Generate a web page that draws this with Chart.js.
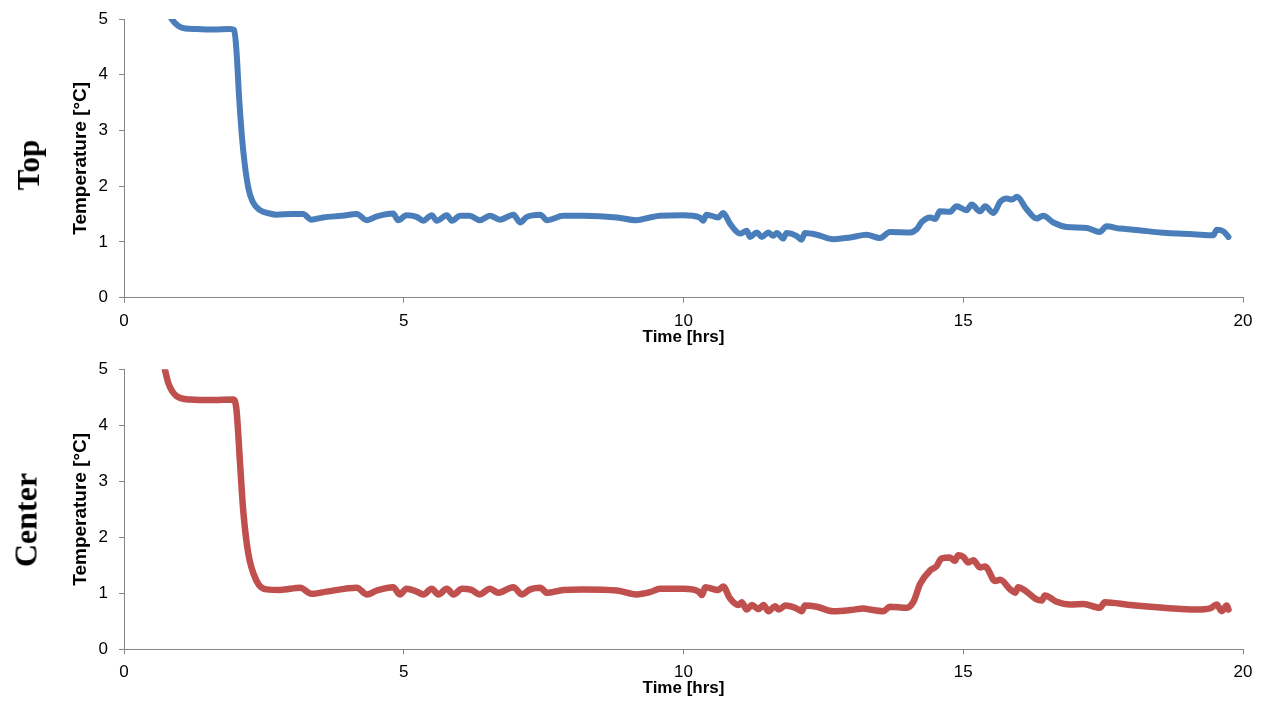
<!DOCTYPE html>
<html>
<head>
<meta charset="utf-8">
<script src="https://cdn.jsdelivr.net/npm/chart.js@4.4.0/dist/chart.umd.min.js"></script>
<style>
  html, body { margin: 0; padding: 0; background: #fff; }
  #wrap { position: relative; width: 1265px; height: 703px; overflow: hidden; }
  canvas { position: absolute; left: 0; }
  .side {
    position: absolute;
    font-family: "Times New Roman", "Liberation Serif", serif;
    font-weight: bold;
    color: #000;
    white-space: nowrap;
    transform: translate(-50%, -50%) rotate(-90deg);
  }
</style>
</head>
<body>
<div id="wrap">
  <canvas id="topChart" width="1265" height="351" style="top:0"></canvas>
  <canvas id="centerChart" width="1265" height="352" style="top:351px"></canvas>
  <div class="side" style="left:29px; top:165px; font-size:31px">Top</div>
  <div class="side" style="left:26px; top:520px; font-size:32px">Center</div>
</div>
<script>
// time axis ticks and range
const timeTicks = [0, 5, 10, 15, 20];
const tempTicks = [0, 1, 2, 3, 4, 5];

// Top sensor
const topTime = [0.85, 0.92, 1.00, 1.10, 1.30, 1.60, 1.90, 1.97, 2.01, 2.06, 2.13, 2.22, 2.30, 2.43, 2.60, 2.73,
  3.00, 3.20, 3.35, 3.56, 3.90, 4.16, 4.34, 4.52, 4.81, 4.90, 5.05, 5.23, 5.35, 5.50, 5.59, 5.77, 5.86,
  6.01, 6.18, 6.36, 6.54, 6.72, 6.96, 7.08, 7.20, 7.44, 7.56, 7.85, 8.21, 8.81, 9.16, 9.40, 9.58, 9.99,
  10.29, 10.35, 10.41, 10.62, 10.71, 10.83, 11.01, 11.13, 11.19, 11.31, 11.40, 11.52, 11.60, 11.67, 11.78,
  11.84, 12.02, 12.11, 12.17, 12.38, 12.68, 12.98, 13.27, 13.51, 13.69, 14.05, 14.17, 14.26, 14.41, 14.50,
  14.58, 14.76, 14.88, 15.06, 15.15, 15.30, 15.39, 15.54, 15.66, 15.78, 15.87, 15.96, 16.13, 16.31, 16.43,
  16.61, 16.85, 17.21, 17.44, 17.56, 17.80, 18.04, 18.64, 19.11, 19.47, 19.53, 19.65, 19.74];
const topTemp = [5.00, 4.92, 4.86, 4.83, 4.82, 4.81, 4.82, 4.80, 4.43, 3.55, 2.65, 1.98, 1.72, 1.57, 1.51, 1.49,
  1.50, 1.50, 1.40, 1.44, 1.47, 1.50, 1.39, 1.46, 1.51, 1.39, 1.48, 1.45, 1.38, 1.48, 1.38, 1.48, 1.38,
  1.47, 1.47, 1.39, 1.47, 1.40, 1.49, 1.35, 1.45, 1.49, 1.39, 1.47, 1.47, 1.44, 1.39, 1.44, 1.47, 1.48,
  1.44, 1.38, 1.49, 1.44, 1.52, 1.33, 1.15, 1.20, 1.09, 1.17, 1.09, 1.17, 1.11, 1.16, 1.06,
  1.16, 1.11, 1.04, 1.16, 1.13, 1.05, 1.08, 1.13, 1.07, 1.18, 1.17, 1.23, 1.36, 1.44, 1.41,
  1.55, 1.54, 1.64, 1.57, 1.67, 1.55, 1.64, 1.52, 1.72, 1.78, 1.76, 1.81, 1.59, 1.42, 1.47,
  1.35, 1.27, 1.25, 1.18, 1.28, 1.24, 1.22, 1.16, 1.14, 1.12, 1.22, 1.19, 1.09];

// Center sensor
const centerTime = [0.73, 0.79, 0.94, 1.18, 1.60, 1.95, 2.01, 2.07, 2.13, 2.22, 2.37, 2.55, 2.79, 3.15, 3.35, 3.62,
  4.16, 4.34, 4.52, 4.81, 4.93, 5.05, 5.23, 5.35, 5.50, 5.62, 5.77, 5.89, 6.04, 6.21, 6.36, 6.54, 6.69,
  6.96, 7.11, 7.26, 7.44, 7.56, 7.85, 8.21, 8.81, 9.16, 9.40, 9.58, 10.00, 10.27, 10.33, 10.39, 10.62,
  10.71, 10.83, 10.98, 11.04, 11.13, 11.22, 11.34, 11.43, 11.52, 11.64, 11.70, 11.82, 12.02, 12.11, 12.17,
  12.38, 12.68, 12.98, 13.22, 13.33, 13.57, 13.69, 13.99, 14.11, 14.23, 14.41, 14.52, 14.61, 14.76, 14.85,
  14.91, 15.00, 15.09, 15.18, 15.30, 15.39, 15.57, 15.66, 15.84, 15.93, 15.98, 16.13, 16.31, 16.40, 16.46,
  16.67, 16.91, 17.15, 17.44, 17.53, 17.98, 18.58, 19.17, 19.41, 19.53, 19.62, 19.71, 19.74];
const centerTemp = [5.00, 4.76, 4.52, 4.46, 4.45, 4.46, 4.28, 3.39, 2.49, 1.72, 1.22, 1.07, 1.06, 1.10, 0.99, 1.03,
  1.10, 0.98, 1.05, 1.11, 0.98, 1.08, 1.03, 0.98, 1.08, 0.98, 1.08, 0.98, 1.08, 1.06, 0.98, 1.08, 1.01,
  1.11, 0.98, 1.07, 1.10, 1.01, 1.06, 1.07, 1.05, 0.98, 1.02, 1.08, 1.08, 1.03, 0.97, 1.11, 1.06,
  1.12, 0.91, 0.79, 0.84, 0.71, 0.79, 0.72, 0.79, 0.68, 0.77, 0.71, 0.78, 0.73, 0.68, 0.78,
  0.76, 0.68, 0.70, 0.73, 0.71, 0.68, 0.76, 0.74, 0.85, 1.17, 1.41, 1.48, 1.62, 1.64, 1.58,
  1.68, 1.65, 1.55, 1.59, 1.46, 1.48, 1.22, 1.24, 1.07, 1.01, 1.11, 1.03, 0.89, 0.87, 0.96,
  0.85, 0.80, 0.81, 0.74, 0.84, 0.79, 0.74, 0.71, 0.73, 0.80, 0.68, 0.78, 0.71];

Chart.defaults.font.family = 'Arial, "Liberation Sans", sans-serif';
Chart.defaults.color = "#000";

const axisGray = "#868686";

function makeChart(id, times, temps, color, lineWidth, padTop, plotBottom, titleBottom) {
  const canvas = document.getElementById(id);
  const h = canvas.height;
  const points = times.map((t, i) => ({ x: t, y: temps[i] }));

  return new Chart(canvas.getContext("2d"), {
    type: "line",
    data: {
      datasets: [
        {
          data: points,
          borderColor: color,
          borderWidth: lineWidth,
          pointRadius: 0,
          fill: false,
          cubicInterpolationMode: "monotone",
          borderCapStyle: "round",
          borderJoinStyle: "round",
        },
      ],
    },
    options: {
      responsive: false,
      animation: false,
      devicePixelRatio: 1,
      layout: { padding: { top: padTop, right: 22, left: 0, bottom: 0 } },
      plugins: { legend: { display: false }, tooltip: { enabled: false } },
      scales: {
        x: {
          type: "linear",
          min: 0,
          max: 20,
          afterBuildTicks: (s) => { s.ticks = timeTicks.map((v) => ({ value: v })); },
          ticks: { font: { size: 17 }, padding: 8, maxRotation: 0 },
          grid: { drawOnChartArea: false, tickLength: 5, color: axisGray },
          border: { color: axisGray },
          title: {
            display: true,
            text: "Time [hrs]",
            font: { size: 17, weight: "bold" },
            padding: { top: 0, bottom: titleBottom },
          },
          afterFit: (s) => {
            s.height = h - plotBottom;
            s.paddingLeft = 0;
            s.paddingRight = 0;
          },
        },
        y: {
          min: 0,
          max: 5,
          afterBuildTicks: (s) => { s.ticks = tempTicks.map((v) => ({ value: v })); },
          ticks: { font: { size: 17 }, padding: 11 },
          grid: { drawOnChartArea: false, tickLength: 5, color: axisGray },
          border: { color: axisGray },
          title: {
            display: true,
            text: "Temperature [°C]",
            font: { size: 19, weight: "bold" },
            padding: { top: 69, bottom: 0 },
          },
          afterFit: (s) => {
            s.width = 124;
            s.paddingTop = 0;
            s.paddingBottom = 0;
          },
        },
      },
    },
  });
}

makeChart("topChart", topTime, topTemp, "#4A7EBB", 6, 19, 297.7, 3);
makeChart("centerChart", centerTime, centerTemp, "#C0504D", 6.5, 18.3, 298.3, 4);
</script>
</body>
</html>
